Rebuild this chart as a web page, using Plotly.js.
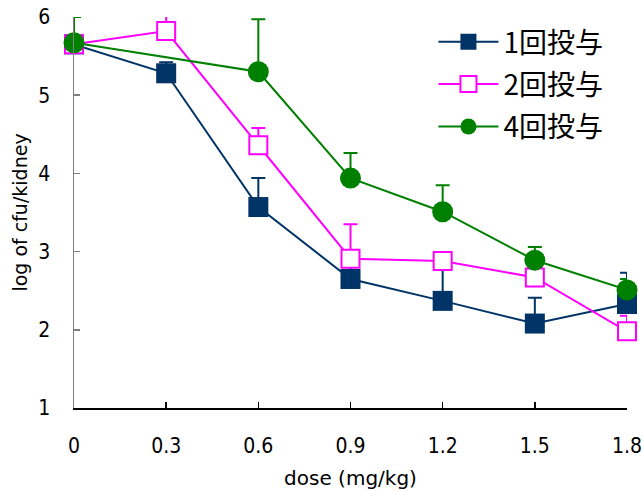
<!DOCTYPE html>
<html>
<head>
<meta charset="utf-8">
<script src="https://cdn.plot.ly/plotly-3.0.1.min.js"></script>
<style>html,body{margin:0;padding:0;background:#fff;}#chart{width:643px;height:491px;}</style>
</head>
<body>
<div id="chart"></div>
<script>
// Data
const doses = [0, 0.3, 0.6, 0.9, 1.2, 1.5, 1.8];
const tickLabels = ["0", "0.3", "0.6", "0.9", "1.2", "1.5", "1.8"];
const seriesNames = ["1回投与", "2回投与", "4回投与"];
const once = [5.65, 5.28, 3.57, 2.65, 2.37, 2.08, 2.33];
const onceErr = [0.1, 0.14, 0.37, 0.2, 0.45, 0.33, 0.4];
const twice = [5.65, 5.82, 4.36, 2.91, 2.88, 2.67, 1.98];
const twiceErr = [0.1, 0.24, 0.22, 0.44, 0.1, 0.25, 0.2];
const four = [5.67, null, 5.30, 3.94, 3.51, 2.89, 2.51];
const fourErr = [0.33, 0, 0.67, 0.32, 0.34, 0.17, 0.14];

// green series has no point at 0.3
const fourX = doses.filter((d, i) => four[i] !== null);
const fourY = four.filter(v => v !== null);
const fourE = fourErr.filter((e, i) => four[i] !== null);

const errStyle = (arr, color) => ({
  type: 'data', symmetric: false, array: arr,
  arrayminus: arr.map(() => 0), color: color, thickness: 2, width: 7
});

const traces = [
  {
    x: doses, y: once, name: seriesNames[0], legendgroup: 'a', mode: 'lines+markers',
    line: {color: '#003366', width: 2},
    marker: {symbol: 'square', size: 20, color: '#003366'},
    error_y: errStyle(onceErr, '#003366'), cliponaxis: false
  },
  {
    x: doses, y: twice, name: seriesNames[1], legendgroup: 'b', mode: 'lines+markers',
    line: {color: '#FF00FF', width: 2},
    marker: {symbol: 'square', size: 18, color: '#FFFFFF', line: {color: '#FF00FF', width: 2}},
    error_y: errStyle(twiceErr, '#FF00FF'), cliponaxis: false
  },
  {
    x: fourX, y: fourY, name: seriesNames[2], legendgroup: 'c', mode: 'lines+markers',
    line: {color: '#008000', width: 2},
    marker: {symbol: 'circle', size: 21, color: '#008000'},
    error_y: errStyle(fourE, '#008000'), cliponaxis: false
  }
];

const tickFamily = 'Liberation Sans Narrow, DejaVu Sans Condensed, Roboto Condensed, Roboto, sans-serif';

const layout = {
  width: 643, height: 491,
  margin: {l: 74, r: 16, t: 17, b: 83, pad: 0},
  paper_bgcolor: '#fff', plot_bgcolor: '#fff',
  showlegend: true,
  legend: {
    x: 0.65, y: 1.0, xanchor: 'left', yanchor: 'top',
    font: {family: 'Noto Sans CJK JP', size: 28, color: '#000'},
    bgcolor: 'rgba(0,0,0,0)', itemwidth: 60, tracegroupgap: 3
  },
  xaxis: {
    range: [0, 1.8], tickvals: doses, ticktext: tickLabels, automargin: false,
    showline: true, linecolor: '#000', linewidth: 1.5,
    ticks: 'inside', ticklen: 6, tickwidth: 1.5, tickcolor: '#000',
    showgrid: false, zeroline: false, ticklabelstandoff: 18,
    tickfont: {family: tickFamily, size: 21, color: '#000'},
    title: {text: 'dose (mg/kg)', standoff: 14, font: {family: 'DejaVu Sans', size: 20, color: '#000'}}
  },
  yaxis: {
    range: [1, 6], tickvals: [1, 2, 3, 4, 5, 6], automargin: false,
    showline: true, linecolor: '#808080', linewidth: 1.5,
    ticks: 'inside', ticklen: 6, tickwidth: 1.5, tickcolor: '#808080',
    showgrid: false, zeroline: false, ticklabelstandoff: 18,
    tickfont: {family: tickFamily, size: 21, color: '#000'},
    title: {text: 'log of cfu/kidney', standoff: 5, font: {family: 'DejaVu Sans', size: 19, color: '#000'}}
  }
};

Plotly.newPlot('chart', traces, layout, {displayModeBar: false, staticPlot: true});
</script>
</body>
</html>
